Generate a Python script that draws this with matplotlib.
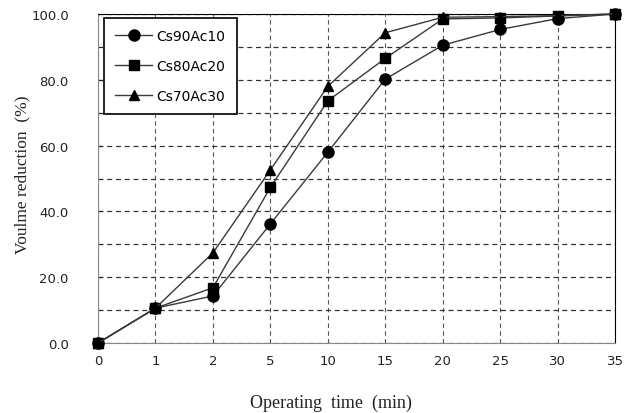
import matplotlib
matplotlib.use("Agg")
import matplotlib.pyplot as plt
import numpy as np

times = ["0", "1", "2", "5", "10", "15", "20", "25", "30", "35"]
cs90ac10 = [0.0, 10.6, 14.3, 36.2, 58.0, 80.2, 90.5, 95.3, 98.6, 100.0]
cs80ac20 = [0.0, 10.6, 16.8, 47.3, 73.6, 86.5, 98.5, 98.8, 99.4, 100.0]
cs70ac30 = [0.0, 10.6, 27.4, 52.6, 78.0, 94.3, 99.0, 99.2, 99.5, 100.0]
labels = ["Cs90Ac10", "Cs80Ac20", "Cs70Ac30"]
markers = ["o", "s", "^"]
msizes = [8, 7, 6.5]

fig = plt.figure(figsize=(6.27, 4.14), dpi=100)
ax = fig.add_axes([0.1563, 0.169, 0.8247, 0.7948])
x = np.arange(len(times))
for ys, lab, m, ms in zip([cs90ac10, cs80ac20, cs70ac30], labels, markers, msizes):
    ax.plot(x, ys, color="#3a3a3a", lw=1.0, marker=m, ms=ms, mfc="black", mec="black",
            label=lab, zorder=3, clip_on=False)

ax.set_xlim(0, len(times) - 1)
ax.set_ylim(0, 100)
ax.set_xticks(x)
ax.set_xticklabels(times)
ax.set_yticks(np.arange(0, 101, 20))
ax.set_yticklabels([f"{v:.1f}" for v in np.arange(0, 101, 20)])
ax.set_yticks(np.arange(0, 101, 10), minor=True)
ax.grid(True, which="both", axis="y", color="#333333", ls=(0, (4, 3)), lw=0.9)
ax.grid(True, which="major", axis="x", color="#555555", ls=(0, (4, 3)), lw=0.8)
ax.tick_params(axis="x", length=0, pad=8, labelsize=9.5, colors="#222222")
ax.tick_params(axis="y", which="both", length=3, direction="in", pad=21, labelsize=9.5, colors="#222222")
for tl in ax.get_xticklabels() + ax.get_yticklabels():
    tl.set_family("DejaVu Sans")
for s in ["left", "bottom"]:
    ax.spines[s].set_color("#888888")
for s in ["top", "right"]:
    ax.spines[s].set_color("black")

fig.text(331 / 627, 1 - 403 / 414, "Operating  time  (min)", family="Liberation Serif",
         fontsize=13, ha="center", va="center", color="#222222")
fig.text(22 / 627, 1 - 175 / 414, "Voulme reduction  (%)", family="Liberation Serif",
         fontsize=12.5, ha="center", va="center", rotation=90, color="#222222")

leg = ax.legend(loc="upper left", bbox_to_anchor=(0.003, 1.0), frameon=True, fancybox=False,
                edgecolor="black", framealpha=1, labelspacing=1.15,
                handlelength=2.7, handletextpad=0.3, borderpad=0.8, borderaxespad=0.3,
                prop={"family": "DejaVu Sans", "size": 10})
leg.get_frame().set_linewidth(1.2)

fig.savefig("out.png", dpi=100)
